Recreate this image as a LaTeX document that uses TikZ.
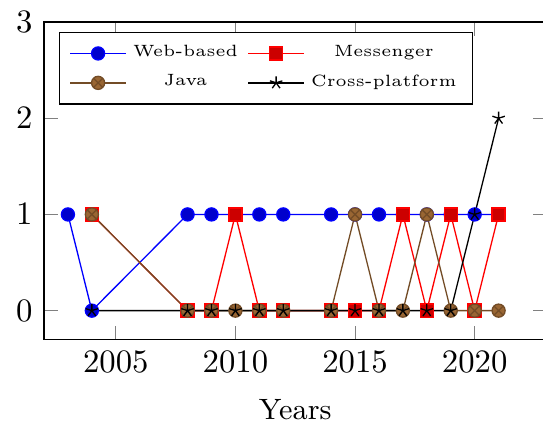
\documentclass[tikz,border=0pt]{standalone}
\usepackage{tikz}
\usepackage{pgfplots}
\pgfplotsset{compat=1.18}
\usetikzlibrary{plotmarks}

\begin{document}
\begin{tikzpicture}
  % page frame; the right edge of the axis box falls just outside it
  \useasboundingbox (-13.46pt,-26.45pt) rectangle (152.64pt,103.85pt);

  \begin{axis}[
    name=yearsplot,
    scale only axis,
    width=153.7pt, height=97.1pt,
    xmin=2002, xmax=2023,
    ymin=-0.3, ymax=3,
    xtick={2005,2010,2015,2020},
    ytick={0,1,2,3},
    xticklabel style={/pgf/number format/1000 sep={}},
    xlabel={Years},
    xlabel style={font=\small, yshift=-1.6pt},
    legend pos=north west,
    legend columns=2,
    legend cell align=center,
    legend style={font=\tiny,
      /tikz/every even column/.append style={column sep=1pt}},
  ]
    % one point per year, 2013 has no entry
    \addplot coordinates {
      (2003,1) (2004,0) (2008,1) (2009,1) (2010,1) (2011,1) (2012,1)
      (2014,1) (2015,1) (2016,1) (2017,1) (2018,1) (2019,1) (2020,1) (2021,1)};
    \addplot coordinates {
      (2004,1) (2008,0) (2009,0) (2010,1) (2011,0) (2012,0)
      (2014,0) (2015,0) (2016,0) (2017,1) (2018,0) (2019,1) (2020,0) (2021,1)};
    \addplot coordinates {
      (2004,1) (2008,0) (2009,0) (2010,0) (2011,0) (2012,0)
      (2014,0) (2015,1) (2016,0) (2017,0) (2018,1) (2019,0) (2020,0) (2021,0)};
    \addplot coordinates {
      (2004,0) (2008,0) (2009,0) (2010,0) (2011,0) (2012,0)
      (2014,0) (2015,0) (2016,0) (2017,0) (2018,0) (2019,0) (2020,1) (2021,2)};
    \legend{Web-based, Messenger, Java, Cross-platform}
  \end{axis}
\end{tikzpicture}
\end{document}
